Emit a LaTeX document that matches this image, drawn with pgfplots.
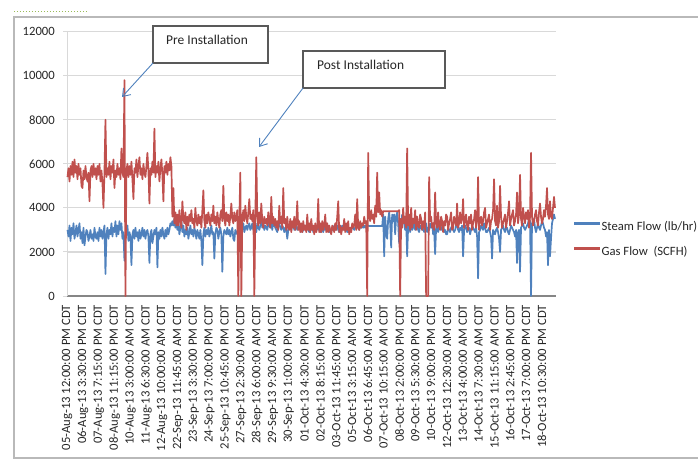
\documentclass[border=0pt]{standalone}
\usepackage{fontspec}
\setmainfont{Carlito}
\usepackage{pgfplots}
\usepackage{pgfplotstable}
\pgfplotsset{compat=1.18}
\usetikzlibrary{arrows.meta}

\definecolor{steamblue}{HTML}{4F81BD}
\definecolor{gasred}{HTML}{C0504D}
\definecolor{gridgray}{RGB}{217,217,217}
\definecolor{axisgray}{RGB}{134,134,134}
\definecolor{boxgray}{RGB}{89,89,89}
\definecolor{dotgreen}{HTML}{9BBB59}

% x = position along the category axis (first label at 66.7, one label every 15.84)
\pgfplotstableread[row sep=\\]{
x y\\
67 3000\\ 68 2700\\ 69 3200\\ 70 2500\\ 71 3100\\ 72 2800\\ 73 3300\\ 74 2600\\ 75 2900\\ 76 3200\\
77 2700\\ 78 3000\\ 79 3300\\ 80 2600\\ 81 2900\\ 82 2400\\ 83 3100\\ 84 2300\\ 85 2700\\ 86 3000\\
87 2900\\ 88 2500\\ 89 2700\\ 90 3000\\ 91 2600\\ 92 2800\\ 93 2500\\ 94 3100\\ 95 2700\\ 96 2600\\
97 2900\\ 98 2500\\ 99 3100\\ 100 2700\\ 101 3000\\ 102 2600\\ 103 2900\\ 104 3200\\ 105 1000\\ 106 2800\\
107 3100\\ 108 2600\\ 109 3000\\ 110 2800\\ 111 3300\\ 112 2700\\ 113 3100\\ 114 2900\\ 115 3400\\ 116 2700\\
117 3200\\ 118 2800\\ 119 3400\\ 120 3000\\ 121 3300\\ 122 2600\\ 123 2900\\ 124 1600\\ 125 2700\\ 126 3000\\
127 3200\\ 128 2500\\ 129 2900\\ 130 2700\\ 131 1400\\ 132 2800\\ 133 3000\\ 134 2600\\ 135 3100\\ 136 2700\\
137 2900\\ 138 2500\\ 139 3000\\ 140 2600\\ 141 2800\\ 142 3100\\ 143 2700\\ 144 3000\\ 145 2600\\ 146 2900\\
147 3000\\ 148 2700\\ 149 1500\\ 150 2800\\ 151 3000\\ 152 2400\\ 153 2700\\ 154 3000\\ 155 2800\\ 156 3100\\
157 1300\\ 158 2900\\ 159 2600\\ 160 3000\\ 161 2700\\ 162 3100\\ 163 2800\\ 164 2600\\ 165 3000\\ 166 2700\\
167 3100\\ 168 2800\\ 169 3000\\ 170 3300\\ 171 3200\\ 172 3400\\ 173 3200\\ 174 3500\\ 175 3100\\ 176 3300\\
177 3000\\ 178 3300\\ 179 2800\\ 180 3100\\ 181 3400\\ 182 2900\\ 183 3200\\ 184 2700\\ 185 3000\\ 186 2800\\
187 3100\\ 188 2600\\ 189 2900\\ 190 3200\\ 191 2800\\ 192 3000\\ 193 2700\\ 194 3100\\ 195 2900\\ 196 2600\\
197 3000\\ 198 2800\\ 199 2600\\ 200 3000\\ 201 2500\\ 202 1400\\ 203 2800\\ 204 3100\\ 205 2700\\ 206 3000\\
207 2800\\ 208 3100\\ 209 2700\\ 210 2900\\ 211 3200\\ 212 2800\\ 213 2900\\ 214 1700\\ 215 2800\\ 216 3100\\
217 3000\\ 218 2600\\ 219 2900\\ 220 3100\\ 221 2800\\ 222 1100\\ 223 2700\\ 224 3000\\ 225 2900\\ 226 2800\\
227 3100\\ 228 2800\\ 229 3000\\ 230 2700\\ 231 2900\\ 232 3100\\ 233 2600\\ 234 2500\\ 235 3000\\ 236 2900\\
237 2800\\ 238 3100\\ 239 2900\\ 240 3000\\ 241 3200\\ 242 3000\\ 243 3300\\ 244 2900\\ 245 3100\\ 246 3200\\
247 3000\\ 248 3200\\ 249 3300\\ 250 3000\\ 251 3100\\ 252 3300\\ 253 3000\\ 254 3400\\ 255 3100\\ 256 2900\\
257 3300\\ 258 3100\\ 259 3000\\ 260 3200\\ 261 3400\\ 262 3100\\ 263 3300\\ 264 3000\\ 265 3200\\ 266 3100\\
267 3000\\ 268 3300\\ 269 3200\\ 270 3100\\ 271 3300\\ 272 3000\\ 273 3400\\ 274 3200\\ 275 3100\\ 276 3000\\
277 2900\\ 278 3200\\ 279 3300\\ 280 3100\\ 281 3000\\ 282 3200\\ 283 3100\\ 284 2900\\ 285 3100\\ 286 3000\\
287 2600\\ 288 3000\\ 289 3200\\ 290 3100\\ 291 3000\\ 292 3200\\ 293 3300\\ 294 3000\\ 295 3100\\ 296 3200\\
297 3000\\ 298 3100\\ 299 3200\\ 300 3000\\ 301 3100\\ 302 2900\\ 303 3000\\ 304 3200\\ 305 3100\\ 306 3000\\
307 3100\\ 308 3000\\ 309 2900\\ 310 3100\\ 311 3000\\ 312 3200\\ 313 2900\\ 314 3000\\ 315 3100\\ 316 3000\\
317 3200\\ 318 3000\\ 319 3100\\ 320 2900\\ 321 3000\\ 322 3100\\ 323 2900\\ 324 3200\\ 325 3000\\ 326 3100\\
327 3000\\ 328 3100\\ 329 2900\\ 330 3000\\ 331 2900\\ 332 3100\\ 333 3000\\ 334 3200\\ 335 3000\\ 336 3100\\
337 3200\\ 338 3000\\ 339 2900\\ 340 3100\\ 341 3000\\ 342 3200\\ 343 3100\\ 344 3000\\ 345 3200\\ 346 3100\\
347 2900\\ 348 3100\\ 349 3000\\ 350 3100\\ 351 3000\\ 352 3200\\ 353 3100\\ 354 3000\\ 355 3100\\ 356 3200\\
357 3300\\ 358 3100\\ 359 3000\\ 360 3200\\ 361 3100\\ 362 3200\\ 363 3100\\ 364 3200\\ 365 3100\\ 366 3200\\
367 3150\\ 368 3200\\ 369 3180\\ 370 3180\\ 371 3180\\ 372 3180\\ 373 3180\\ 374 3180\\ 375 3180\\ 376 3180\\
377 3180\\ 378 3180\\ 379 3180\\ 380 3180\\ 381 3180\\ 382 3180\\ 383 3700\\ 384 1800\\ 385 3600\\ 386 2900\\
387 2600\\ 388 3500\\ 389 3800\\ 390 3300\\ 391 2200\\ 392 3700\\ 393 3400\\ 394 3700\\ 395 2800\\ 396 3600\\
397 3800\\ 398 3300\\ 399 2400\\ 400 3500\\ 401 3200\\ 402 3700\\ 403 3500\\ 404 3300\\ 405 3000\\ 406 3400\\
407 1800\\ 408 3200\\ 409 3500\\ 410 2900\\ 411 3300\\ 412 3000\\ 413 3100\\ 414 3400\\ 415 3000\\ 416 3100\\
417 3400\\ 418 3000\\ 419 2900\\ 420 3200\\ 421 3100\\ 422 3000\\ 423 3300\\ 424 2900\\ 425 3100\\ 426 3300\\
427 2900\\ 428 3100\\ 429 3000\\ 430 3300\\ 431 3100\\ 432 3300\\ 433 2800\\ 434 3000\\ 435 1900\\ 436 3100\\
437 3300\\ 438 2900\\ 439 3100\\ 440 3200\\ 441 3000\\ 442 3100\\ 443 3300\\ 444 2900\\ 445 3000\\ 446 2800\\
447 2800\\ 448 3100\\ 449 3000\\ 450 2900\\ 451 3100\\ 452 3200\\ 453 3000\\ 454 2900\\ 455 3000\\ 456 3200\\
457 3300\\ 458 3000\\ 459 2900\\ 460 3100\\ 461 3000\\ 462 3200\\ 463 1800\\ 464 3000\\ 465 3200\\ 466 3100\\
467 2900\\ 468 3000\\ 469 3100\\ 470 2800\\ 471 3000\\ 472 3200\\ 473 3100\\ 474 3000\\ 475 2900\\ 476 3100\\
477 2700\\ 478 800\\ 479 2900\\ 480 3000\\ 481 3200\\ 482 3100\\ 483 3000\\ 484 3300\\ 485 3100\\ 486 2900\\
487 2900\\ 488 3000\\ 489 3100\\ 490 2900\\ 491 2700\\ 492 1700\\ 493 3000\\ 494 2900\\ 495 2800\\ 496 3000\\
497 3100\\ 498 2900\\ 499 2600\\ 500 2000\\ 501 3000\\ 502 3100\\ 503 3200\\ 504 3000\\ 505 2900\\ 506 3100\\
507 3100\\ 508 2900\\ 509 2800\\ 510 3000\\ 511 3200\\ 512 3100\\ 513 3000\\ 514 2900\\ 515 2700\\ 516 3000\\
517 1500\\ 518 2900\\ 519 3000\\ 520 1100\\ 521 3100\\ 522 3200\\ 523 3300\\ 524 3100\\ 525 3000\\ 526 3100\\
527 3200\\ 528 3300\\ 529 3500\\ 530 3400\\ 531 0\\ 532 3300\\ 533 3400\\ 534 3500\\ 535 3100\\ 536 2900\\
537 3100\\ 538 3300\\ 539 3100\\ 540 3000\\ 541 3200\\ 542 3400\\ 543 3300\\ 544 3100\\ 545 3000\\ 546 2700\\
547 2900\\ 548 1400\\ 549 3000\\ 550 1800\\ 551 2600\\ 552 3300\\ 553 3500\\ 554 3700\\ 555 3500\\
}\steam

\pgfplotstableread[row sep=\\]{
x y\\
67 5400\\ 68 5800\\ 69 5200\\ 70 5900\\ 71 5500\\ 72 6100\\ 73 5400\\ 74 6200\\ 75 5600\\ 76 5900\\
77 5300\\ 78 6000\\ 79 5500\\ 80 5800\\ 81 5000\\ 82 4900\\ 83 5700\\ 84 5300\\ 85 5900\\ 86 5400\\
87 5200\\ 88 5600\\ 89 4300\\ 90 5700\\ 91 5900\\ 92 5400\\ 93 6000\\ 94 5500\\ 95 5800\\ 96 5300\\
97 5900\\ 98 5500\\ 99 6000\\ 100 5200\\ 101 5700\\ 102 5100\\ 103 4000\\ 104 5600\\ 105 8000\\ 106 5400\\
107 5800\\ 108 5500\\ 109 6100\\ 110 5300\\ 111 5900\\ 112 5600\\ 113 6200\\ 114 4900\\ 115 5700\\ 116 5400\\
117 6000\\ 118 5500\\ 119 5800\\ 120 5300\\ 121 6700\\ 122 5600\\ 123 5400\\ 124 9800\\ 125 0\\ 126 5700\\
127 6000\\ 128 5400\\ 129 5900\\ 130 5500\\ 131 6100\\ 132 5300\\ 133 4400\\ 134 5800\\ 135 5600\\ 136 6200\\
137 5400\\ 138 5900\\ 139 6300\\ 140 5500\\ 141 5800\\ 142 5300\\ 143 6000\\ 144 5600\\ 145 5400\\ 146 5900\\
147 6500\\ 148 5700\\ 149 4200\\ 150 5800\\ 151 5500\\ 152 6100\\ 153 5600\\ 154 7600\\ 155 5400\\ 156 5900\\
157 5600\\ 158 6100\\ 159 5200\\ 160 5800\\ 161 6200\\ 162 5500\\ 163 4300\\ 164 5900\\ 165 5600\\ 166 6100\\
167 5500\\ 168 6000\\ 169 5700\\ 170 6300\\ 171 5900\\ 172 3600\\ 173 4900\\ 174 3300\\ 175 3800\\ 176 3200\\
177 3700\\ 178 3200\\ 179 3900\\ 180 3400\\ 181 3100\\ 182 4300\\ 183 3500\\ 184 3300\\ 185 3800\\ 186 3000\\
187 3600\\ 188 3200\\ 189 3700\\ 190 3400\\ 191 3900\\ 192 3300\\ 193 3500\\ 194 3100\\ 195 4000\\ 196 3400\\
197 3200\\ 198 3700\\ 199 3300\\ 200 3600\\ 201 3100\\ 202 3900\\ 203 4800\\ 204 3400\\ 205 3100\\ 206 3700\\
207 3300\\ 208 3800\\ 209 3500\\ 210 3200\\ 211 3700\\ 212 3400\\ 213 4100\\ 214 3300\\ 215 3600\\ 216 3200\\
217 3800\\ 218 3400\\ 219 3100\\ 220 3700\\ 221 3900\\ 222 3400\\ 223 5000\\ 224 3500\\ 225 3200\\ 226 3800\\
227 3400\\ 228 3700\\ 229 3200\\ 230 3600\\ 231 4200\\ 232 3500\\ 233 3300\\ 234 3800\\ 235 3400\\ 236 3600\\
237 3900\\ 238 0\\ 239 3500\\ 240 5600\\ 241 0\\ 242 3500\\ 243 3900\\ 244 3400\\ 245 4100\\ 246 3600\\
247 3300\\ 248 3800\\ 249 4400\\ 250 3500\\ 251 3700\\ 252 3400\\ 253 3900\\ 254 0\\ 255 3600\\ 256 6300\\
257 3600\\ 258 3200\\ 259 3800\\ 260 3300\\ 261 4200\\ 262 3400\\ 263 3100\\ 264 3600\\ 265 3300\\ 266 3500\\
267 3200\\ 268 3800\\ 269 3400\\ 270 3100\\ 271 4500\\ 272 3300\\ 273 3600\\ 274 3200\\ 275 3500\\ 276 3100\\
277 3400\\ 278 3000\\ 279 4100\\ 280 3300\\ 281 3600\\ 282 3100\\ 283 4900\\ 284 3300\\ 285 3500\\ 286 3000\\
287 3600\\ 288 3100\\ 289 3000\\ 290 3500\\ 291 2900\\ 292 3400\\ 293 3100\\ 294 3600\\ 295 3000\\ 296 3300\\
297 4300\\ 298 3000\\ 299 3400\\ 300 2900\\ 301 3300\\ 302 2900\\ 303 3400\\ 304 3000\\ 305 3200\\ 306 2900\\
307 3700\\ 308 3000\\ 309 3300\\ 310 2900\\ 311 3500\\ 312 3000\\ 313 3200\\ 314 2800\\ 315 3300\\ 316 2900\\
317 3100\\ 318 4400\\ 319 2900\\ 320 3300\\ 321 2900\\ 322 3400\\ 323 3000\\ 324 3200\\ 325 3700\\ 326 2900\\
327 3300\\ 328 2900\\ 329 3200\\ 330 3000\\ 331 2800\\ 332 3200\\ 333 3100\\ 334 2900\\ 335 3300\\ 336 3000\\
337 3600\\ 338 4300\\ 339 2900\\ 340 3200\\ 341 2800\\ 342 3100\\ 343 3000\\ 344 3500\\ 345 2900\\ 346 3300\\
347 3000\\ 348 3400\\ 349 2800\\ 350 3100\\ 351 2900\\ 352 3300\\ 353 3100\\ 354 3200\\ 355 3700\\ 356 3000\\
357 4400\\ 358 3100\\ 359 3000\\ 360 3400\\ 361 3100\\ 362 3300\\ 363 3200\\ 364 3600\\ 365 3300\\ 366 3400\\
367 0\\ 368 6500\\ 369 3700\\ 370 3400\\ 371 3900\\ 372 3500\\ 373 3700\\ 374 3300\\ 375 4100\\ 376 3600\\
377 5600\\ 378 3800\\ 379 4700\\ 380 3700\\ 381 3900\\ 382 3600\\ 383 3850\\ 384 3850\\ 385 3850\\ 386 3850\\
387 3850\\ 388 3850\\ 389 3850\\ 390 3850\\ 391 3850\\ 392 3850\\ 393 3850\\ 394 3850\\ 395 3850\\ 396 3850\\
397 3850\\ 398 3850\\ 399 3900\\ 400 0\\ 401 3500\\ 402 3100\\ 403 4000\\ 404 3300\\ 405 3600\\ 406 3100\\
407 6700\\ 408 3200\\ 409 3700\\ 410 3000\\ 411 4000\\ 412 3100\\ 413 3500\\ 414 3300\\ 415 3900\\ 416 3000\\
417 3600\\ 418 3200\\ 419 3100\\ 420 3700\\ 421 3500\\ 422 3000\\ 423 3400\\ 424 3100\\ 425 3800\\ 426 0\\
427 0\\ 428 0\\ 429 5400\\ 430 3400\\ 431 3600\\ 432 3100\\ 433 3300\\ 434 3000\\ 435 4700\\ 436 3300\\
437 3100\\ 438 3800\\ 439 3200\\ 440 3000\\ 441 3600\\ 442 3400\\ 443 2900\\ 444 3400\\ 445 3200\\ 446 3700\\
447 3600\\ 448 3000\\ 449 3300\\ 450 3500\\ 451 3800\\ 452 3000\\ 453 3100\\ 454 3600\\ 455 3400\\ 456 3200\\
457 4200\\ 458 3100\\ 459 3300\\ 460 3800\\ 461 3300\\ 462 3500\\ 463 4400\\ 464 3100\\ 465 3400\\ 466 3700\\
467 3200\\ 468 3000\\ 469 3600\\ 470 3300\\ 471 3700\\ 472 3000\\ 473 3300\\ 474 3500\\ 475 3900\\ 476 3100\\
477 3400\\ 478 5400\\ 479 3000\\ 480 3500\\ 481 3600\\ 482 3200\\ 483 3400\\ 484 3800\\ 485 4000\\ 486 3100\\
487 3300\\ 488 3500\\ 489 3700\\ 490 3000\\ 491 3400\\ 492 3500\\ 493 3900\\ 494 5300\\ 495 3400\\ 496 3200\\
497 4100\\ 498 3100\\ 499 3400\\ 500 5000\\ 501 3600\\ 502 3100\\ 503 3300\\ 504 3500\\ 505 3700\\ 506 3100\\
507 3400\\ 508 3800\\ 509 4300\\ 510 3200\\ 511 3500\\ 512 3700\\ 513 3900\\ 514 3200\\ 515 3400\\ 516 3700\\
517 4700\\ 518 3300\\ 519 3700\\ 520 5500\\ 521 3500\\ 522 3200\\ 523 4000\\ 524 3600\\ 525 3300\\ 526 3800\\
527 3500\\ 528 3900\\ 529 3100\\ 530 3600\\ 531 6500\\ 532 3600\\ 533 3200\\ 534 3400\\ 535 3700\\ 536 3900\\
537 3400\\ 538 3200\\ 539 3800\\ 540 4200\\ 541 3600\\ 542 3300\\ 543 3500\\ 544 3900\\ 545 3600\\ 546 4100\\
547 4900\\ 548 3700\\ 549 3500\\ 550 4300\\ 551 3600\\ 552 3500\\ 553 4000\\ 554 4500\\ 555 4000\\
}\gas

\begin{document}
\begin{tikzpicture}
% chart frame and the dotted line above it
\draw[gray!55, line width=1.2bp] (14bp,444bp) rectangle (710bp,3bp);
\draw[dotgreen, dotted, line width=1bp] (14bp,449bp) -- (88bp,449bp);

\begin{axis}[
    at={(67bp,165bp)}, anchor=south west,
    scale only axis,
    width=489bp, height=264.3bp,
    xmin=66.5, xmax=556,
    ymin=0, ymax=12000,
    axis x line*=bottom, axis y line*=left,
    x axis line style={draw=axisgray, line width=2.5bp},
    y axis line style={draw=gridgray, line width=1bp},
    ytick={0,2000,4000,6000,8000,10000,12000},
    scaled y ticks=false,
    ymajorgrids=true,
    grid style={draw=gridgray, line width=1.2bp},
    tick align=outside,
    major tick length=4bp,
    ytick style={draw=gridgray, line width=1bp},
    xtick style={draw=none},
    /pgf/number format/1000 sep={},
    /pgf/number format/assume math mode=true,
    yticklabel style={font=\fontsize{12.7}{15}\selectfont, text=black!85, inner sep=0pt, xshift=-8bp},
    xtick={66.7,82.54,98.38,114.22,130.06,145.9,161.74,177.58,193.42,209.26,225.1,240.94,256.78,272.62,288.46,304.3,320.14,335.98,351.82,367.66,383.5,399.34,415.18,431.02,446.86,462.7,478.54,494.38,510.22,526.06,541.9},
    xticklabels={
      {05-Aug-13 12:00:00 PM CDT},{06-Aug-13 3:30:00 PM CDT},{07-Aug-13 7:15:00 PM CDT},
      {08-Aug-13 11:15:00 PM CDT},{10-Aug-13 3:00:00 AM CDT},{11-Aug-13 6:30:00 AM CDT},
      {12-Aug-13 10:00:00 AM CDT},{22-Sep-13 11:45:00 AM CDT},{23-Sep-13 3:30:00 PM CDT},
      {24-Sep-13 7:00:00 PM CDT},{25-Sep-13 10:45:00 PM CDT},{27-Sep-13 2:30:00 AM CDT},
      {28-Sep-13 6:00:00 AM CDT},{29-Sep-13 9:30:00 AM CDT},{30-Sep-13 1:00:00 PM CDT},
      {01-Oct-13 4:30:00 PM CDT},{02-Oct-13 8:15:00 PM CDT},{03-Oct-13 11:45:00 PM CDT},
      {05-Oct-13 3:15:00 AM CDT},{06-Oct-13 6:45:00 AM CDT},{07-Oct-13 10:15:00 AM CDT},
      {08-Oct-13 2:00:00 PM CDT},{09-Oct-13 5:30:00 PM CDT},{10-Oct-13 9:00:00 PM CDT},
      {12-Oct-13 12:30:00 AM CDT},{13-Oct-13 4:00:00 AM CDT},{14-Oct-13 7:30:00 AM CDT},
      {15-Oct-13 11:15:00 AM CDT},{16-Oct-13 2:45:00 PM CDT},{17-Oct-13 7:00:00 PM CDT},
      {18-Oct-13 10:30:00 PM CDT}},
    xticklabel style={font=\fontsize{12.7}{15}\selectfont, text=black!85, yshift=-5bp, rotate=90, anchor=east, inner sep=0pt},
    legend style={at={(axis description cs:1.0348,0.2838)}, anchor=north west,
        draw=none, fill=none, inner sep=0pt, row sep=13bp,
        font=\fontsize{12.7}{15}\selectfont, text=black!85,
        nodes={inner sep=0pt, text height=9bp, text depth=3bp},
        /tikz/every even column/.append style={column sep=3bp}},
    legend cell align=left,
    legend image code/.code={\draw[#1, line width=2.4bp] (0bp,3.5bp) -- (26bp,3.5bp);},
    clip=false,
]
\addplot[steamblue, line width=1.7bp, line join=round] table {\steam};
\addlegendentry{Steam Flow (lb/hr)}
\addplot[gasred, line width=1.7bp, line join=round] table {\gas};
\addlegendentry{Gas Flow\ \ (SCFH)}
\end{axis}

% callouts
\draw[boxgray, line width=1.5bp, fill=white] (153bp,435bp) rectangle (268bp,398bp);
\node[anchor=west, inner sep=0pt, font=\fontsize{13.5}{16}\selectfont, text=black!85] at (166bp,421bp) {Pre Installation};
\draw[steamblue, line width=0.9bp, -{Straight Barb[length=7bp,width=10bp]}] (153bp,398bp) -- (122bp,364bp);

\draw[boxgray, line width=1.5bp, fill=white] (303bp,410bp) rectangle (445bp,373bp);
\node[anchor=west, inner sep=0pt, font=\fontsize{13.5}{16}\selectfont, text=black!85] at (317bp,396bp) {Post Installation};
\draw[steamblue, line width=0.9bp, -{Straight Barb[length=7bp,width=10bp]}] (303bp,373bp) -- (259bp,314bp);

\pgfresetboundingbox
\path[use as bounding box] (0,0) rectangle (698bp,461bp);
\end{tikzpicture}
\end{document}
